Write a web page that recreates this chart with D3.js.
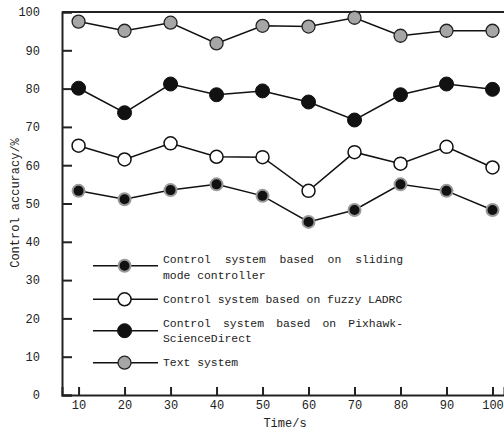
<!DOCTYPE html>
<html>
<head>
<meta charset="utf-8">
<script src="https://cdn.jsdelivr.net/npm/d3@7"></script>
<style>
  body { margin: 0; background: #fff; }
  text { font-family: "Liberation Mono", "DejaVu Sans Mono", monospace; fill: #222; }
</style>
</head>
<body>
<div id="chart"></div>
<script>
// Set up dimensions
const width = 504;
const height = 434;

// Data
const times = [10, 20, 30, 40, 50, 60, 70, 80, 90, 100];
const slidingMode = [53.3, 51.1, 53.5, 55.0, 52.0, 45.2, 48.3, 55.0, 53.3, 48.3];
const fuzzyLadrc = [65.1, 61.5, 65.7, 62.2, 62.1, 53.3, 63.4, 60.4, 64.8, 59.4];
const pixhawk = [80.1, 73.7, 81.2, 78.4, 79.4, 76.5, 71.8, 78.4, 81.2, 79.8];
const textSystem = [97.5, 95.1, 97.2, 91.8, 96.4, 96.2, 98.5, 93.8, 95.1, 95.1];
const yTicks = [0, 10, 20, 30, 40, 50, 60, 70, 80, 90, 100];
const legendLabels = [
    ["Control system based on sliding", "mode controller"],
    ["Control system based on fuzzy LADRC"],
    ["Control system based on Pixhawk-", "ScienceDirect"],
    ["Text system"]
];

// Marker styles per series
const series = [
    { values: slidingMode, fill: "#111", stroke: "#999", r: 6, sw: 2 },
    { values: fuzzyLadrc, fill: "#fff", stroke: "#111", r: 6.5, sw: 1.5 },
    { values: pixhawk, fill: "#111", stroke: "#111", r: 7, sw: 1 },
    { values: textSystem, fill: "#a6a6a6", stroke: "#222", r: 6.5, sw: 1.3 }
];

const svg = d3.select('#chart')
    .append('svg')
    .attr('width', width)
    .attr('height', height);

// Scales
const x = d3.scaleLinear().domain([6.4, 102.5]).range([62, 504]);
const y = d3.scaleLinear().domain([0, 100]).range([395, 12]);

// Axes
svg.append("g")
    .attr("transform", "translate(0,395)")
    .call(d3.axisBottom(x).tickValues(times).tickSize(-8).tickPadding(5))
    .call(g => g.select(".domain").attr("stroke", "#222").attr("stroke-width", 2))
    .call(g => g.selectAll(".tick line").attr("stroke", "#222").attr("stroke-width", 2))
    .call(g => g.selectAll(".tick text").attr("font-size", 12).attr("font-family", null).attr("fill", "#222"));

svg.append("g")
    .attr("transform", "translate(62,0)")
    .call(d3.axisLeft(y).tickValues(yTicks).tickSize(-10).tickPadding(22))
    .call(g => g.select(".domain").attr("stroke", "#222").attr("stroke-width", 2))
    .call(g => g.selectAll(".tick line").attr("stroke", "#222").attr("stroke-width", 2))
    .call(g => g.selectAll(".tick text").attr("font-size", 12).attr("font-family", null).attr("fill", "#222"));

// Top border
svg.append("line")
    .attr("x1", 62).attr("x2", 504)
    .attr("y1", y(100)).attr("y2", y(100))
    .attr("stroke", "#222").attr("stroke-width", 2);

// Axis titles
svg.append("text")
    .attr("x", 285).attr("y", 427)
    .attr("text-anchor", "middle")
    .attr("font-size", 12)
    .text("Time/s");

svg.append("text")
    .attr("transform", "translate(19,203) rotate(-90)")
    .attr("text-anchor", "middle")
    .attr("font-size", 12)
    .attr("fill", "#555")
    .text("Control accuracy/%");

// Lines and markers
const line = d3.line().x((d, i) => x(times[i])).y(d => y(d));

series.forEach(s => {
    svg.append("path")
        .attr("d", line(s.values))
        .attr("fill", "none")
        .attr("stroke", "#111")
        .attr("stroke-width", 1.5);
    svg.append("g")
        .selectAll("circle")
        .data(s.values)
        .enter()
        .append("circle")
        .attr("cx", (d, i) => x(times[i]))
        .attr("cy", d => y(d))
        .attr("r", s.r)
        .attr("fill", s.fill)
        .attr("stroke", s.stroke)
        .attr("stroke-width", s.sw);
});

// Legend
const legendY = [265.7, 299.3, 330.7, 362.7];
const textY = [[259.3, 275], [298.7], [322.7, 338.3], [362]];
const justify = [true, false, true, false];
const textLeft = 163, textRight = 403;

series.forEach((s, k) => {
    const g = svg.append("g");
    g.append("line")
        .attr("x1", 93).attr("x2", 158)
        .attr("y1", legendY[k]).attr("y2", legendY[k])
        .attr("stroke", "#111").attr("stroke-width", 1.5);
    g.append("circle")
        .attr("cx", x(20)).attr("cy", legendY[k])
        .attr("r", s.r)
        .attr("fill", s.fill)
        .attr("stroke", s.stroke)
        .attr("stroke-width", s.sw);
    legendLabels[k].forEach((t, j) => {
        if (justify[k] && j === 0) {
            // spread the words across the full width (justified line)
            const words = t.split(" ");
            const nodes = words.map(w => g.append("text")
                .attr("y", textY[k][j])
                .attr("dy", "0.35em")
                .attr("font-size", 11.4)
                .text(w));
            const widths = nodes.map(n => n.node().getComputedTextLength());
            const gap = (textRight - textLeft - d3.sum(widths)) / (words.length - 1);
            let pos = textLeft;
            nodes.forEach((n, i) => {
                n.attr("x", pos);
                pos += widths[i] + gap;
            });
        } else {
            g.append("text")
                .attr("x", textLeft)
                .attr("y", textY[k][j])
                .attr("dy", "0.35em")
                .attr("font-size", 11.4)
                .text(t);
        }
    });
});
</script>
</body>
</html>
